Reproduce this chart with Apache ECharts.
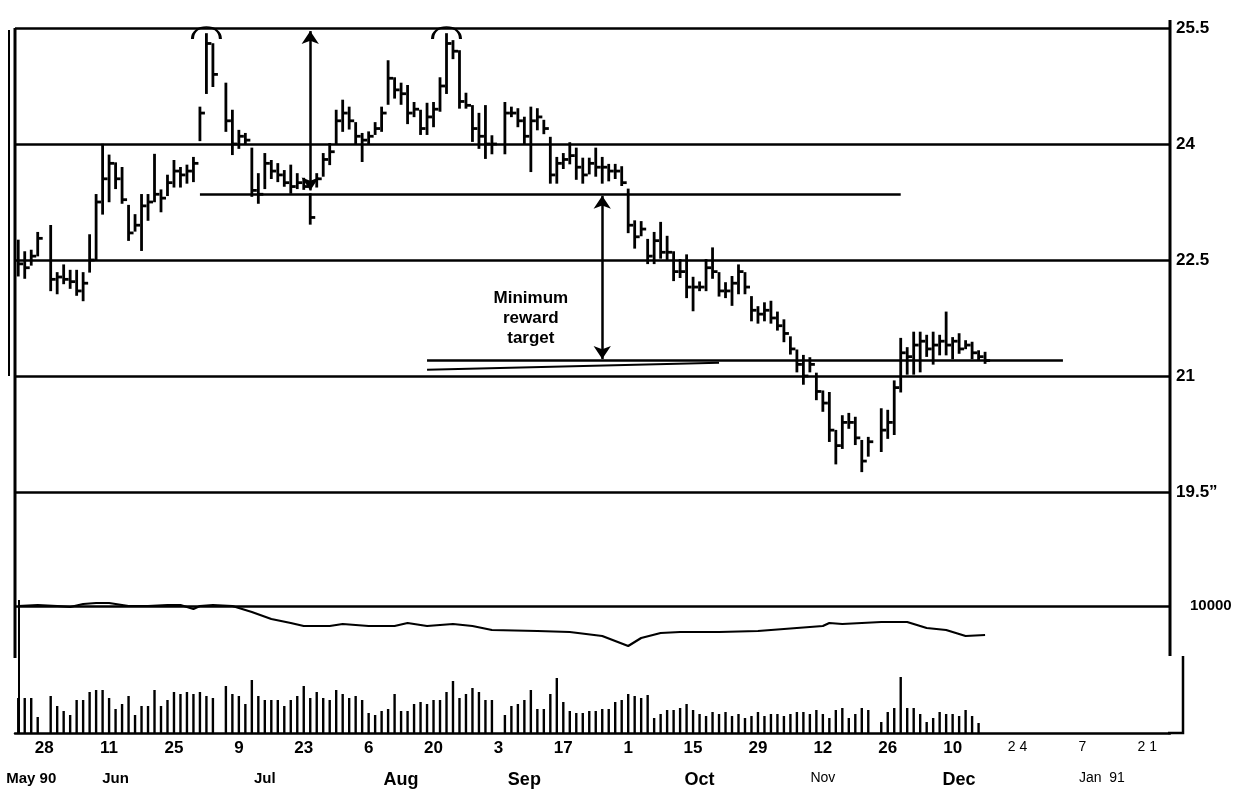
<!DOCTYPE html>
<html>
<head>
<meta charset="utf-8">
<title>Price chart May 90 - Jan 91</title>
<script src="https://cdn.jsdelivr.net/npm/echarts@6/dist/echarts.min.js"></script>
<style>
  html, body { margin: 0; padding: 0; background: #fff; }
  #chart { width: 1256px; height: 793px; }
</style>
</head>
<body>
<div id="chart"></div>
<script>
// trading days (weekdays) from Tue 22 May 1990
const dates = [];
(function () {
  let t = Date.UTC(1990, 4, 22);
  while (dates.length < 178) {
    const d = new Date(t);
    const wd = d.getUTCDay();
    if (wd > 0 && wd < 6) dates.push(d.toISOString().slice(0, 10));
    t += 86400000;
  }
})();

// daily high / low / close (null = holiday)
const highs = [
  22.75, 22.60, 22.62, 22.85, null, 22.94, 22.33, 22.43, 22.36, 22.36,
  22.33, 22.82, 23.34, 23.99, 23.85, 23.75, 23.69, 23.20, 23.08, 23.34,
  23.34, 23.86, 23.40, 23.59, 23.78, 23.69, 23.72, 23.82, 24.47, 25.42,
  25.29, null, 24.78, 24.43, 24.17, 24.13, 23.94, 23.61, 23.87, 23.78,
  23.74, 23.65, 23.72, 23.61, 23.55, 23.35, 23.61, 23.87, 24.00, 24.43,
  24.56, 24.47, 24.27, 24.13, 24.15, 24.27, 24.47, 25.07, 24.85, 24.78,
  24.75, 24.53, 24.43, 24.52, 24.53, 24.85, 25.42, 25.33, 25.20, 24.65,
  24.49, 24.39, 24.49, 24.10, null, 24.53, 24.47, 24.45, 24.34, 24.47,
  24.45, 24.30, 24.08, 23.82, 23.87, 24.01, 23.94, 23.81, 23.81, 23.94,
  23.82, 23.73, 23.73, 23.70, 23.41, 23.00, 22.99, 22.76, 22.85, 22.98,
  22.80, 22.60, 22.50, 22.56, 22.27, 22.21, 22.50, 22.65, 22.33, 22.20,
  22.28, 22.43, 22.33, 22.02, 21.89, 21.94, 21.96, 21.82, 21.72, 21.50,
  21.33, 21.26, 21.23, 21.03, 20.80, 20.78, 20.29, 20.48, 20.51, 20.46,
  20.16, 20.20, null, 20.57, 20.55, 20.93, 21.48, 21.36, 21.56, 21.56,
  21.52, 21.56, 21.52, 21.82, 21.49, 21.54, 21.45, 21.43, 21.32, 21.30
];
const lows = [
  22.30, 22.27, 22.44, 22.56, null, 22.11, 22.07, 22.20, 22.14, 22.05,
  21.98, 22.35, 22.50, 23.10, 23.26, 23.43, 23.24, 22.76, 22.88, 22.63,
  23.02, 23.26, 23.13, 23.34, 23.45, 23.45, 23.50, 23.52, 24.05, 24.66,
  24.75, null, 24.17, 23.87, 23.95, 24.00, 23.33, 23.24, 23.43, 23.56,
  23.52, 23.46, 23.37, 23.43, 23.42, 22.97, 23.45, 23.59, 23.74, 24.00,
  24.17, 24.20, 24.01, 23.78, 24.00, 24.13, 24.17, 24.52, 24.60, 24.52,
  24.27, 24.36, 24.13, 24.13, 24.23, 24.43, 24.66, 25.11, 24.47, 24.47,
  24.04, 23.95, 23.82, 23.88, null, 23.88, 24.36, 24.23, 24.01, 23.65,
  24.19, 24.14, 23.50, 23.50, 23.69, 23.75, 23.55, 23.50, 23.62, 23.59,
  23.50, 23.53, 23.56, 23.47, 22.86, 22.66, 22.82, 22.46, 22.46, 22.53,
  22.50, 22.24, 22.28, 22.02, 21.85, 22.11, 22.11, 22.27, 22.04, 22.02,
  21.92, 22.07, 22.07, 21.72, 21.69, 21.72, 21.69, 21.60, 21.45, 21.29,
  21.06, 20.90, 21.06, 20.70, 20.55, 20.16, 19.87, 20.07, 20.33, 20.12,
  19.77, 19.97, null, 20.03, 20.20, 20.25, 20.80, 21.03, 21.03, 21.06,
  21.26, 21.16, 21.28, 21.28, 21.23, 21.30, 21.36, 21.23, 21.22, 21.17
];
const closes = [
  22.45, 22.40, 22.55, 22.78, null, 22.25, 22.28, 22.25, 22.22, 22.10,
  22.20, 22.50, 23.25, 23.55, 23.75, 23.55, 23.28, 22.85, 22.95, 23.20,
  23.25, 23.35, 23.30, 23.50, 23.65, 23.60, 23.65, 23.75, 24.40, 25.30,
  24.90, null, 24.30, 24.00, 24.10, 24.05, 23.40, 23.35, 23.75, 23.65,
  23.60, 23.50, 23.45, 23.50, 23.45, 23.05, 23.55, 23.80, 23.90, 24.30,
  24.40, 24.30, 24.10, 24.05, 24.10, 24.20, 24.40, 24.85, 24.70, 24.65,
  24.40, 24.45, 24.20, 24.35, 24.45, 24.75, 25.30, 25.20, 24.55, 24.50,
  24.20, 24.10, 24.00, 24.00, null, 24.40, 24.40, 24.30, 24.10, 24.30,
  24.35, 24.20, 23.60, 23.75, 23.80, 23.85, 23.70, 23.60, 23.75, 23.70,
  23.70, 23.65, 23.65, 23.50, 22.95, 22.80, 22.90, 22.55, 22.75, 22.60,
  22.60, 22.35, 22.35, 22.15, 22.15, 22.15, 22.40, 22.35, 22.10, 22.10,
  22.20, 22.35, 22.15, 21.85, 21.80, 21.85, 21.75, 21.65, 21.55, 21.35,
  21.15, 21.00, 21.15, 20.80, 20.65, 20.30, 20.10, 20.40, 20.40, 20.20,
  19.90, 20.15, null, 20.30, 20.40, 20.85, 21.30, 21.25, 21.40, 21.45,
  21.35, 21.40, 21.45, 21.40, 21.45, 21.35, 21.40, 21.30, 21.25, 21.20
];

// daily volume (arbitrary units)
const volumes = [
  35, 35, 35, 16, null, 37, 27, 22, 18, 33,
  33, 41, 43, 43, 35, 24, 29, 37, 18, 27,
  27, 43, 27, 33, 41, 39, 41, 39, 41, 37,
  35, null, 47, 39, 37, 29, 53, 37, 33, 33,
  33, 27, 33, 37, 47, 35, 41, 35, 33, 43,
  39, 35, 37, 33, 20, 18, 22, 24, 39, 22,
  22, 29, 31, 29, 33, 33, 41, 52, 35, 39,
  45, 41, 33, 33, null, 18, 27, 29, 33, 43,
  24, 24, 39, 55, 31, 22, 20, 20, 22, 22,
  24, 24, 31, 33, 39, 37, 35, 38, 15, 19,
  23, 23, 25, 29, 23, 19, 17, 21, 19, 21,
  17, 19, 15, 17, 21, 17, 19, 19, 17, 19,
  21, 21, 19, 23, 19, 15, 23, 25, 15, 19,
  25, 23, null, 11, 21, 25, 56, 25, 25, 19,
  11, 15, 21, 19, 19, 17, 23, 17, 10
];

// open interest line: dates and values
const oiDates = [
  '1990-05-22', '1990-05-25', '1990-05-30', '1990-06-01', '1990-06-05', '1990-06-07',
  '1990-06-11', '1990-06-14', '1990-06-19', '1990-06-22', '1990-06-26', '1990-06-28',
  '1990-06-29', '1990-07-03', '1990-07-06', '1990-07-11', '1990-07-16', '1990-07-19',
  '1990-07-23', '1990-07-27', '1990-07-31', '1990-08-06', '1990-08-10', '1990-08-14',
  '1990-08-17', '1990-08-23', '1990-08-28', '1990-08-31', '1990-09-11', '1990-09-18',
  '1990-09-25', '1990-10-01', '1990-10-03', '1990-10-08', '1990-10-11', '1990-10-19',
  '1990-10-29', '1990-11-06', '1990-11-12', '1990-11-13', '1990-11-15', '1990-11-23',
  '1990-11-29', '1990-12-04', '1990-12-07', '1990-12-12', '1990-12-17'
];
const oiValues = [
  10000, 10050, 10000, 9950, 10100, 10150,
  10150, 10000, 10000, 10050, 10050, 9850,
  10000, 10050, 10000, 9700, 9350, 9150,
  9000, 9000, 9100, 9000, 9000, 9150,
  9000, 9100, 9000, 8800, 8750, 8700,
  8500, 8000, 8400, 8650, 8700, 8700,
  8750, 8900, 9000, 9150, 9100, 9200,
  9200, 8900, 8800, 8500, 8550
];

// axis labels
const tickLabels = {
  '1990-05-28': '28', '1990-06-11': '11', '1990-06-25': '25', '1990-07-09': '9',
  '1990-07-23': '23', '1990-08-06': '6', '1990-08-20': '20', '1990-09-03': '3',
  '1990-09-17': '17', '1990-10-01': '1', '1990-10-15': '15', '1990-10-29': '29',
  '1990-11-12': '12', '1990-11-26': '26', '1990-12-10': '10', '1990-12-24': '2 4',
  '1991-01-07': '7', '1991-01-21': '2 1'
};
const lightTicks = ['1990-12-24', '1991-01-07', '1991-01-21'];
const monthLabels = {
  '1990-05-24': ['May 90', 'b'], '1990-06-12': ['Jun', 'b'], '1990-07-13': ['Jul', 'b'],
  '1990-08-13': ['Aug', 'B'], '1990-09-07': ['Sep', 'B'], '1990-10-16': ['Oct', 'B'],
  '1990-11-12': ['Nov', 'n'], '1990-12-11': ['Dec', 'B'], '1991-01-10': ['Jan  91', 'n']
};
const priceTicks = [19.5, 21, 22.5, 24, 25.5];

const FONT = '"Liberation Sans", Arial, Helvetica, sans-serif';
const INK = '#000';

const priceData = [];
dates.forEach(function (d, i) {
  if (highs[i] != null) priceData.push([i, highs[i], lows[i], closes[i]]);
});
const oiData = oiDates.map(function (d, i) { return [d, oiValues[i]]; });

const chart = echarts.init(document.getElementById('chart'));

// high-low bar with the close as a tick to the right
function hlcBar(params, api) {
  const x = api.value(0);
  const top = api.coord([x, api.value(1)]);
  const bot = api.coord([x, api.value(2)]);
  const cl = api.coord([x, api.value(3)]);
  const st = { stroke: INK, lineWidth: 2.8 };
  return {
    type: 'group',
    children: [
      { type: 'line', shape: { x1: top[0], y1: top[1] - 1, x2: bot[0], y2: bot[1] + 1 }, style: st },
      { type: 'line', shape: { x1: cl[0], y1: cl[1], x2: cl[0] + 5, y2: cl[1] }, style: st }
    ]
  };
}

const capPath = 'path://M0,14 C0,-4 30,-4 30,14';

const option = {
  animation: false,
  backgroundColor: '#fff',
  textStyle: { fontFamily: FONT, color: INK },
  grid: [
    { left: 15, right: 86, top: 28, height: 464 },
    { left: 15, right: 86, top: 606, height: 60 },
    { left: 15, right: 86, top: 663, height: 70 }
  ],
  xAxis: [
    { type: 'category', gridIndex: 0, data: dates, boundaryGap: true, show: false },
    { type: 'category', gridIndex: 1, data: dates, boundaryGap: true, show: false },
    {
      type: 'category', gridIndex: 2, data: dates, boundaryGap: true,
      axisLine: { lineStyle: { color: INK, width: 2.5 } },
      axisTick: {
        alignWithLabel: true, length: 5, lineStyle: { color: INK, width: 2 },
        interval: function (i, v) { return new Date(v + 'T00:00:00Z').getUTCDay() === 1; }
      },
      axisLabel: {
        interval: function (i, v) { return tickLabels[v] !== undefined; },
        formatter: function (v) {
          const t = tickLabels[v] || '';
          return lightTicks.indexOf(v) >= 0 ? '{l|' + t + '}' : '{h|' + t + '}';
        },
        margin: 7,
        rich: {
          h: { fontFamily: FONT, fontWeight: 'bold', fontSize: 17, color: INK },
          l: { fontFamily: FONT, fontWeight: 'normal', fontSize: 14, color: INK }
        }
      }
    },
    {
      type: 'category', gridIndex: 2, data: dates, boundaryGap: true, position: 'bottom', offset: 30,
      axisLine: { show: false }, axisTick: { show: false },
      axisLabel: {
        interval: function (i, v) { return monthLabels[v] !== undefined; },
        formatter: function (v) {
          const m = monthLabels[v];
          return m ? '{' + m[1] + '|' + m[0] + '}' : '';
        },
        rich: {
          b: { fontFamily: FONT, fontWeight: 'bold', fontSize: 15, color: INK },
          B: { fontFamily: FONT, fontWeight: 'bold', fontSize: 18, color: INK },
          n: { fontFamily: FONT, fontWeight: 'normal', fontSize: 14, color: INK }
        }
      }
    }
  ],
  yAxis: [
    {
      type: 'value', gridIndex: 0, position: 'right',
      min: priceTicks[0], max: priceTicks[priceTicks.length - 1], interval: 1.5,
      axisLine: { show: false }, axisTick: { show: false },
      splitLine: { lineStyle: { color: INK, width: 2.5 } },
      axisLabel: {
        margin: 6, fontFamily: FONT, fontWeight: 'bold', fontSize: 17, color: INK,
        formatter: function (v) { return v === 19.5 ? '19.5\u201d' : String(v); }
      }
    },
    {
      type: 'value', gridIndex: 1, position: 'right', min: 7000, max: 10000, interval: 3000,
      axisLine: { show: false }, axisTick: { show: false }, splitLine: { show: false },
      axisLabel: {
        margin: 20, fontFamily: FONT, fontWeight: 'bold', fontSize: 15, color: INK,
        formatter: function (v) { return v === 10000 ? '10000' : ''; }
      }
    },
    { type: 'value', gridIndex: 2, min: 0, max: 70, show: false }
  ],
  series: [
    {
      name: 'Price', type: 'custom', xAxisIndex: 0, yAxisIndex: 0,
      renderItem: hlcBar, data: priceData, encode: { x: 0, y: [1, 2, 3] }
    },
    {
      name: 'Notes', type: 'line', xAxisIndex: 0, yAxisIndex: 0, data: [], symbol: 'none',
      markLine: {
        silent: true, label: { show: false }, symbol: 'none',
        lineStyle: { color: INK, width: 2.5, type: 'solid' },
        data: [
          [{ coord: ['1990-06-29', 23.35] }, { coord: ['1990-11-28', 23.35] }],
          [{ coord: ['1990-08-17', 21.2] }, { coord: ['1991-01-02', 21.2] }],
          [{ coord: ['1990-08-17', 21.08], lineStyle: { width: 2 } }, { coord: ['1990-10-19', 21.17] }],
          [{ coord: ['1990-07-24', 25.46], symbol: 'arrow', symbolSize: 13 },
           { coord: ['1990-07-24', 23.4], symbol: 'arrow', symbolSize: 13 }],
          [{ coord: ['1990-09-25', 23.33], symbol: 'arrow', symbolSize: 13 },
           { coord: ['1990-09-25', 21.22], symbol: 'arrow', symbolSize: 13 }]
        ]
      },
      markPoint: {
        silent: true,
        data: [
          { coord: ['1990-07-02', 25.5], symbol: capPath, symbolSize: [28, 12], symbolOffset: [0, 5],
            itemStyle: { color: 'none', borderColor: INK, borderWidth: 2 }, label: { show: false } },
          { coord: ['1990-08-22', 25.5], symbol: capPath, symbolSize: [28, 12], symbolOffset: [0, 5],
            itemStyle: { color: 'none', borderColor: INK, borderWidth: 2 }, label: { show: false } },
          { coord: ['1990-09-10', 21.75], symbol: 'rect', symbolSize: 1,
            itemStyle: { color: 'rgba(0,0,0,0)' },
            label: {
              show: true, position: 'inside', formatter: 'Minimum\nreward\ntarget',
              fontFamily: FONT, fontWeight: 'bold', fontSize: 17, lineHeight: 20, color: INK, align: 'center'
            } }
        ]
      }
    },
    {
      name: 'Open interest', type: 'line', xAxisIndex: 1, yAxisIndex: 1, data: oiData,
      symbol: 'none', clip: false, lineStyle: { color: INK, width: 2.2 },
      markLine: {
        silent: true, symbol: 'none', label: { show: false },
        lineStyle: { color: INK, width: 2.5, type: 'solid' },
        data: [{ yAxis: 10000 }]
      }
    },
    {
      name: 'Volume', type: 'bar', xAxisIndex: 2, yAxisIndex: 2, data: volumes,
      barWidth: 2.4, itemStyle: { color: INK }
    }
  ],
  graphic: [
    { type: 'line', shape: { x1: 9, y1: 30, x2: 9, y2: 376 }, style: { stroke: INK, lineWidth: 2 } },
    { type: 'line', shape: { x1: 15, y1: 28, x2: 15, y2: 658 }, style: { stroke: INK, lineWidth: 3 } },
    { type: 'line', shape: { x1: 19, y1: 600, x2: 19, y2: 734 }, style: { stroke: INK, lineWidth: 2 } },
    { type: 'line', shape: { x1: 1170, y1: 20, x2: 1170, y2: 656 }, style: { stroke: INK, lineWidth: 3 } },
    { type: 'polyline', shape: { points: [[1168, 733], [1183, 733], [1183, 656]] }, style: { stroke: INK, lineWidth: 2.5, fill: null } }
  ]
};

chart.setOption(option);
</script>
</body>
</html>
